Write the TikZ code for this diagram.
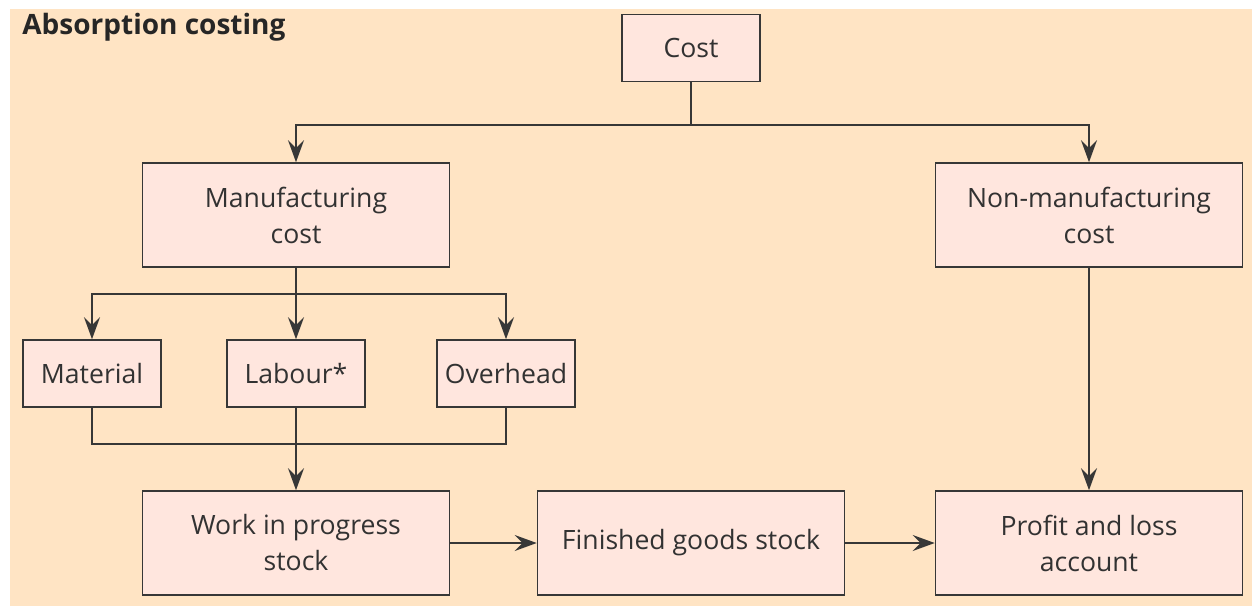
\documentclass[tikz,border=0pt]{standalone}
\usepackage{fontspec}
\setmainfont{Open Sans}
\usepackage{xcolor}
\usetikzlibrary{arrows.meta,positioning}
\definecolor{panelbg}{RGB}{255,228,196}
\definecolor{boxfill}{RGB}{255,230,222}
\definecolor{linegray}{RGB}{55,55,55}
\definecolor{textgray}{RGB}{50,50,50}

\begin{document}
\begin{tikzpicture}[x=0.5pt, y=-0.5pt,
    costbox/.style={draw=linegray, line width=0.8pt, fill=boxfill, text=textgray,
      align=center, font=\fontsize{13.3}{18}\selectfont, inner sep=0pt},
    bigbox/.style={costbox, minimum width=153.5pt, minimum height=52pt},
    smallbox/.style={costbox, minimum width=69pt, minimum height=33.5pt},
    flow/.style={draw=linegray, line width=0.8pt, -{Stealth[length=11pt, width=8pt, inset=4pt]}},
    joint/.style={draw=linegray, line width=0.8pt}]
  % Frame and title
  \useasboundingbox (0,0) rectangle (1252,606);
  \fill[panelbg] (10,9) rectangle (1252,606);
  \node[anchor=west, inner sep=0pt, font=\fontsize{14}{16}\bfseries\selectfont, text=black!85] (title) at (22,27) {Absorption costing};

  % Boxes
  \node[smallbox] (cost) at (691,48) {Cost};
  \node[bigbox] (manu) at (296,215) {Manufacturing\\cost};
  \node[bigbox] (nonmanu) at (1089,215) {Non-manufacturing\\cost};
  \node[smallbox] (material) at (92,373.5) {Material};
  \node[smallbox] (labour) at (296,373.5) {Labour*};
  \node[smallbox] (overhead) at (506,373.5) {Overhead};
  \node[bigbox] (wip) at (296,543) {Work in progress\\stock};
  \node[bigbox] (finished) at (691,543) {Finished goods stock};
  \node[bigbox] (profit) at (1089,543) {Profit and loss\\account};

  % Cost split
  \coordinate (costsplit) at (691,125);
  \draw[joint] (cost.south) -- (costsplit);
  \draw[flow] (costsplit) -| (manu.north);
  \draw[flow] (costsplit) -| (nonmanu.north);

  % Manufacturing split
  \coordinate (manusplit) at (296,294);
  \draw[joint] (manu.south) -- (manusplit);
  \draw[flow] (manusplit) -| (material.north);
  \draw[flow] (manusplit) -- (labour.north);
  \draw[flow] (manusplit) -| (overhead.north);

  % Into work in progress
  \coordinate (wipjoin) at (296,444);
  \draw[joint] (material.south) |- (wipjoin) -| (overhead.south);
  \draw[flow] (labour.south) -- (wip.north);

  % Stock flow
  \draw[flow] (wip.east) -- (finished.west);
  \draw[flow] (finished.east) -- (profit.west);
  \draw[flow] (nonmanu.south) -- (profit.north);
\end{tikzpicture}
\end{document}
